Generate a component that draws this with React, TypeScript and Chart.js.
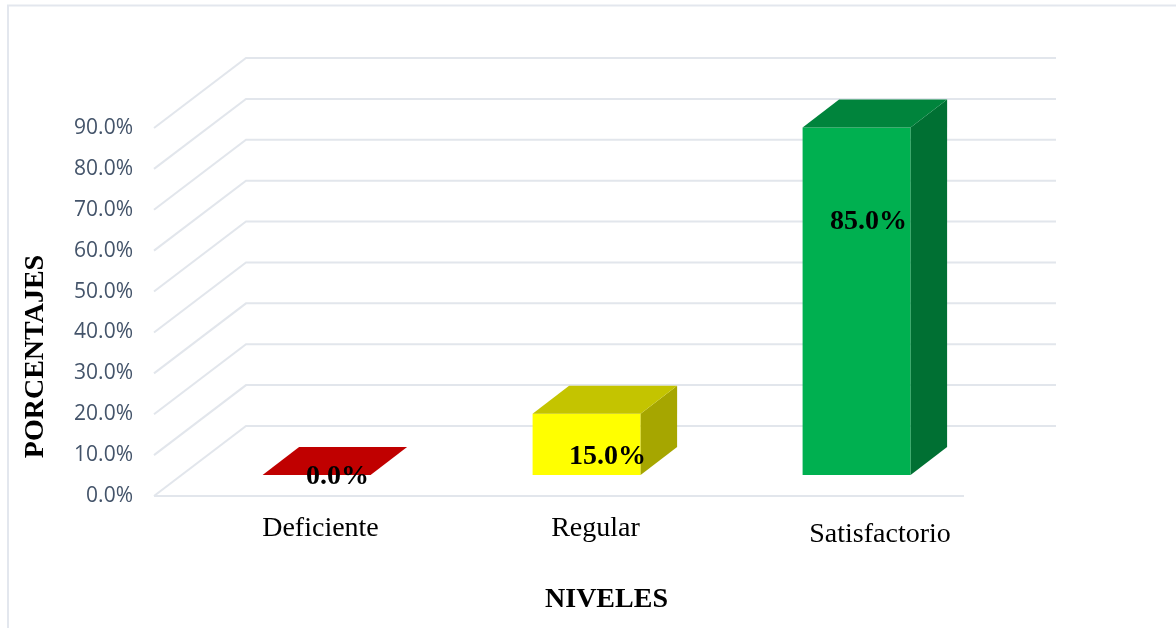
import React, { useEffect, useRef } from "react";
import { Chart, registerables } from "chart.js";

Chart.register(...registerables);

const categories = ["Deficiente", "Regular", "Satisfactorio"];
const percentages = [0, 15, 85];
const frontColors = ["#c00000", "#ffff00", "#00b050"];
const topColors = ["#c00000", "#c4c400", "#00843c"];
const sideColors = ["#900000", "#a6a600", "#007033"];
const yAxisTitle = "PORCENTAJES";
const xAxisTitle = "NIVELES";

const GRID = "#e2e6ec";
const SERIF = '"Liberation Serif", serif';
// oblique projection of the 3-D box
const WALL_DX = 92;
const WALL_DY = -70;
const BAR_SHIFT_X = 27.6;
const BAR_SHIFT_Y = -21;
const DEPTH_DX = 36.5;
const DEPTH_DY = -28;
// per-label tweaks
const tickNudgeX = [31.5, 36.5, 51];
const tickNudgeY = [0, 0, 6];
const valueNudgeX = [21, 21, 12];
const valueNudgeY = [2, 43, 94];

const box3d = {
  id: "box3d",
  beforeDraw(chart: any) {
    const { ctx, width, height } = chart;
    ctx.save();
    ctx.fillStyle = "#ffffff";
    ctx.fillRect(0, 0, width, height);
    ctx.strokeStyle = "#e3e7ee";
    ctx.lineWidth = 2;
    ctx.beginPath();
    ctx.moveTo(8, height);
    ctx.lineTo(8, 5.5);
    ctx.lineTo(width, 5.5);
    ctx.stroke();
    ctx.restore();

    const xs = chart.scales.x;
    const items = xs.getLabelItems();
    if (!xs.$nudged || xs.$nudged !== items) {
      items.forEach((it: any, i: number) => {
        it.options.translation = [
          it.options.translation[0] + tickNudgeX[i],
          it.options.translation[1] + tickNudgeY[i],
        ];
      });
      xs.$nudged = items;
    }
  },
  beforeDatasetsDraw(chart: any) {
    const { ctx, chartArea, scales } = chart;
    const { left, right, bottom } = chartArea;
    ctx.save();
    ctx.strokeStyle = GRID;
    ctx.lineWidth = 2;
    ctx.lineJoin = "miter";
    scales.y.ticks.forEach((t: any) => {
      const y = scales.y.getPixelForValue(t.value);
      ctx.beginPath();
      ctx.moveTo(left, y);
      ctx.lineTo(left + WALL_DX, y + WALL_DY);
      ctx.lineTo(right + WALL_DX, y + WALL_DY);
      ctx.stroke();
    });
    ctx.beginPath();
    ctx.moveTo(left, bottom);
    ctx.lineTo(right, bottom);
    ctx.stroke();
    ctx.restore();
    ctx.save();
    ctx.translate(BAR_SHIFT_X, BAR_SHIFT_Y);
  },
  afterDatasetsDraw(chart: any) {
    const { ctx, chartArea } = chart;
    ctx.restore();
    const bars = chart.getDatasetMeta(0).data;
    ctx.save();
    bars.forEach((bar: any, i: number) => {
      const l = bar.x - bar.width / 2 + BAR_SHIFT_X;
      const r = bar.x + bar.width / 2 + BAR_SHIFT_X;
      const t = bar.y + BAR_SHIFT_Y;
      const b = bar.base + BAR_SHIFT_Y;
      ctx.fillStyle = sideColors[i];
      ctx.beginPath();
      ctx.moveTo(r, t);
      ctx.lineTo(r + DEPTH_DX, t + DEPTH_DY);
      ctx.lineTo(r + DEPTH_DX, b + DEPTH_DY);
      ctx.lineTo(r, b);
      ctx.closePath();
      ctx.fill();
      ctx.fillStyle = topColors[i];
      ctx.beginPath();
      ctx.moveTo(l, t);
      ctx.lineTo(l + DEPTH_DX, t + DEPTH_DY);
      ctx.lineTo(r + DEPTH_DX, t + DEPTH_DY);
      ctx.lineTo(r, t);
      ctx.closePath();
      ctx.fill();
    });
    ctx.fillStyle = "#000000";
    ctx.font = `bold 28px ${SERIF}`;
    ctx.textAlign = "center";
    ctx.textBaseline = "middle";
    bars.forEach((bar: any, i: number) => {
      ctx.fillText(
        `${percentages[i].toFixed(1)}%`,
        bar.x + BAR_SHIFT_X + valueNudgeX[i],
        bar.y + BAR_SHIFT_Y + valueNudgeY[i]
      );
    });
    ctx.fillText(xAxisTitle, 606.5, 600);
    ctx.translate(36, 356.5);
    ctx.rotate(-Math.PI / 2);
    ctx.fillText(yAxisTitle, 0, 0);
    ctx.restore();
    void chartArea;
  },
};

export default function App() {
  const ref = useRef<HTMLCanvasElement>(null);
  useEffect(() => {
    const chart = new Chart(ref.current as HTMLCanvasElement, {
      type: "bar",
      data: {
        labels: categories,
        datasets: [
          {
            data: percentages,
            backgroundColor: frontColors,
            borderWidth: 0,
            categoryPercentage: 1,
            barPercentage: 0.4,
            clip: false,
          } as any,
        ],
      },
      options: {
        responsive: false,
        animation: false,
        layout: { padding: { top: 128, right: 212, left: 0, bottom: 0 } },
        plugins: { legend: { display: false }, tooltip: { enabled: false } },
        scales: {
          x: {
            grid: { display: false, drawTicks: false },
            border: { display: false },
            ticks: {
              color: "#000000",
              padding: 16,
              maxRotation: 0,
              font: { family: SERIF, size: 28 },
            },
            afterFit: (s: any) => {
              s.height = 132;
            },
          },
          y: {
            min: 0,
            max: 90,
            grid: { display: false, drawTicks: false },
            border: { display: false },
            ticks: {
              stepSize: 10,
              color: "#44546a",
              padding: 21,
              font: { family: '"Open Sans", sans-serif', size: 21 },
              callback: (v: any) => `${Number(v).toFixed(1)}%`,
            },
            afterFit: (s: any) => {
              s.width = 154;
            },
          },
        },
      },
      plugins: [box3d],
    });
    return () => chart.destroy();
  }, []);
  return (
    <div style={{ position: "absolute", left: 0, top: 0, width: 1176, height: 628, overflow: "hidden" }}>
      <canvas ref={ref} width={1176} height={628} style={{ display: "block" }} />
    </div>
  );
}
